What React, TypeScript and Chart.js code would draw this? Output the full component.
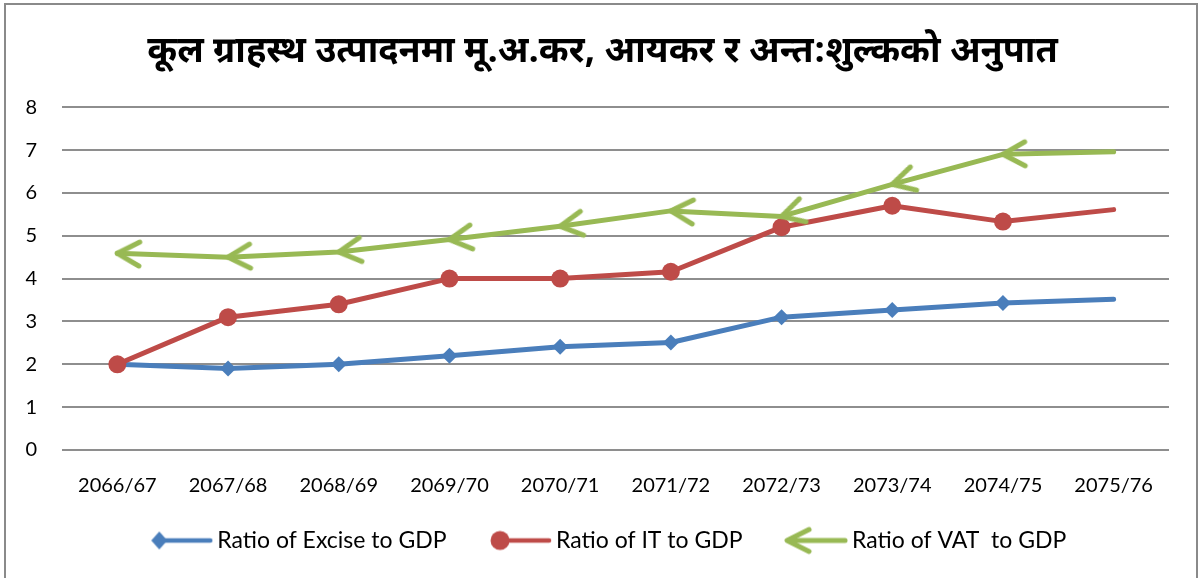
import React, { useEffect, useRef } from "react";
import { Chart, registerables } from "chart.js";

Chart.register(...registerables);

const titleText = "कूल ग्राहस्थ उत्पादनमा मू.अ.कर, आयकर र अन्त:शुल्कको अनुपात";
const categories = ["2066/67", "2067/68", "2068/69", "2069/70", "2070/71", "2071/72", "2072/73", "2073/74", "2074/75", "2075/76"];
const exciseRatio = [2.0, 1.9, 2.0, 2.2, 2.41, 2.51, 3.1, 3.27, 3.43, 3.52];
const itRatio = [2.0, 3.1, 3.4, 4.0, 4.0, 4.16, 5.2, 5.7, 5.33, 5.61];
const vatRatio = [4.59, 4.5, 4.62, 4.91, 5.22, 5.58, 5.45, 6.2, 6.9, 6.96];
const seriesNames = ["Ratio of Excise to GDP", "Ratio of IT to GDP", "Ratio of VAT  to GDP"];
const yTicks = [0, 1, 2, 3, 4, 5, 6, 7, 8];

const BLUE = "#4A7EBB";
const RED = "#BE4B48";
const GREEN = "#98B954";
const FONT = "Lato, 'Open Sans', sans-serif";

function makeChevron(color: string, w: number, h: number, tipX: number, armDx: number, armDy: number, lineTo?: number) {
  const c = document.createElement("canvas");
  c.width = w;
  c.height = h;
  const g = c.getContext("2d")!;
  g.strokeStyle = color;
  g.lineWidth = 5;
  g.lineCap = "round";
  g.lineJoin = "round";
  const cy = h / 2;
  g.beginPath();
  g.moveTo(tipX + armDx, cy - armDy);
  g.lineTo(tipX, cy);
  g.lineTo(tipX + armDx, cy + armDy);
  g.stroke();
  if (lineTo !== undefined) {
    g.beginPath();
    g.moveTo(tipX + 2, cy);
    g.lineTo(lineTo, cy);
    g.stroke();
  }
  return c;
}

function makeLegendIcon(kind: "diamond" | "circle", color: string) {
  const c = document.createElement("canvas");
  c.width = 82;
  c.height = 28;
  const g = c.getContext("2d")!;
  const cy = 14;
  g.strokeStyle = color;
  g.fillStyle = color;
  g.lineWidth = 4.5;
  g.lineCap = "round";
  g.beginPath();
  g.moveTo(28, cy);
  g.lineTo(79, cy);
  g.stroke();
  g.beginPath();
  if (kind === "diamond") {
    g.moveTo(20, cy);
    g.lineTo(28, cy - 9);
    g.lineTo(36, cy);
    g.lineTo(28, cy + 9);
    g.closePath();
  } else {
    g.arc(30, cy, 9.5, 0, Math.PI * 2);
  }
  g.fill();
  return c;
}

export default function App() {
  const ref = useRef<HTMLCanvasElement | null>(null);

  useEffect(() => {
    document.body.style.margin = "0";
    const canvas = ref.current!;
    const chevron = makeChevron(GREEN, 56, 34, 28, 22, 12);
    const legendIcons = [
      makeLegendIcon("diamond", BLUE),
      makeLegendIcon("circle", RED),
      makeChevron(GREEN, 82, 30, 21, 22, 11, 79),
    ];
    const n = categories.length;
    const lastHidden = (r: number) => categories.map((_, i) => (i === n - 1 ? 0 : r));

    const chart = new Chart(canvas, {
      type: "line",
      data: {
        labels: categories,
        datasets: [
          {
            label: seriesNames[0],
            data: exciseRatio,
            borderColor: BLUE,
            backgroundColor: BLUE,
            borderWidth: 5,
            borderCapStyle: "round",
            borderJoinStyle: "round",
            pointStyle: "rectRot",
            pointRadius: lastHidden(8),
            pointBorderWidth: 0,
            pointBackgroundColor: BLUE,
            tension: 0,
            order: 2,
          },
          {
            label: seriesNames[1],
            data: itRatio,
            borderColor: RED,
            backgroundColor: RED,
            borderWidth: 5,
            borderCapStyle: "round",
            borderJoinStyle: "round",
            pointStyle: "circle",
            pointRadius: lastHidden(9),
            pointBorderWidth: 0,
            pointBackgroundColor: RED,
            tension: 0,
            order: 1,
          },
          {
            label: seriesNames[2],
            data: vatRatio,
            borderColor: GREEN,
            backgroundColor: GREEN,
            borderWidth: 5,
            borderCapStyle: "round",
            borderJoinStyle: "round",
            pointStyle: chevron as any,
            pointRadius: lastHidden(10),
            pointRotation: (ctx: any) => {
              const i = ctx.dataIndex;
              if (i >= n - 1) return 0;
              const xs = ctx.chart.scales.x;
              const ys = ctx.chart.scales.y;
              const dx = xs.getPixelForValue(i + 1) - xs.getPixelForValue(i);
              const dy = ys.getPixelForValue(vatRatio[i + 1]) - ys.getPixelForValue(vatRatio[i]);
              return (Math.atan2(dy, dx) * 180) / Math.PI;
            },
            tension: 0,
            order: 0,
          },
        ],
      },
      options: {
        animation: false,
        responsive: false,
        layout: { padding: { left: 18, right: 11, top: 0, bottom: 16 } },
        plugins: {
          title: {
            display: true,
            text: titleText,
            color: "#000",
            font: { family: "'Noto Sans Devanagari', 'Noto Sans', sans-serif", size: 36, weight: "bold", lineHeight: 1.2 },
            padding: { top: 34, bottom: 30 },
          },
          legend: {
            position: "bottom",
            labels: {
              usePointStyle: true,
              pointStyleWidth: 67,
              padding: 31,
              color: "#000",
              font: { family: FONT, size: 23 },
              generateLabels: (ch: any) =>
                ch.data.datasets.map((ds: any, i: number) => ({
                  text: ds.label,
                  fillStyle: ds.borderColor,
                  strokeStyle: ds.borderColor,
                  lineWidth: 0,
                  pointStyle: legendIcons[i],
                  hidden: false,
                  datasetIndex: i,
                  fontColor: "#000",
                })),
            },
          },
          tooltip: { enabled: false },
        },
        scales: {
          x: {
            offset: true,
            afterFit: (s: any) => {
              s.height = 48;
            },
            grid: { display: false, drawTicks: false },
            border: { display: false },
            ticks: { color: "#000", font: { family: FONT, size: 20 }, padding: 24, maxRotation: 0, autoSkip: false },
          },
          y: {
            min: 0,
            max: 8,
            afterFit: (s: any) => {
              s.width = 44;
            },
            afterBuildTicks: (s: any) => {
              s.ticks = yTicks.map((v) => ({ value: v }));
            },
            grid: { color: "#8E8E8E", lineWidth: 2, drawTicks: false },
            border: { display: false },
            ticks: { color: "#000", font: { family: FONT, size: 20 }, padding: 25 },
          },
          yRight: {
            position: "right",
            display: true,
            afterFit: (s: any) => {
              s.width = 18;
            },
            grid: { display: false, drawTicks: false },
            border: { display: false },
            ticks: { display: false },
          },
        },
      },
    });
    return () => chart.destroy();
  }, []);

  return (
    <div style={{ position: "fixed", left: 0, top: 0, width: 1198, height: 578, overflow: "hidden", background: "#fff" }}>
      <canvas ref={ref} width={1198} height={578} style={{ position: "absolute", left: 0, top: 0 }} />
      <div
        style={{
          position: "absolute",
          left: 4,
          top: 3,
          width: 1190,
          height: 620,
          border: "2px solid #8A8A8A",
          pointerEvents: "none",
        }}
      />
    </div>
  );
}
